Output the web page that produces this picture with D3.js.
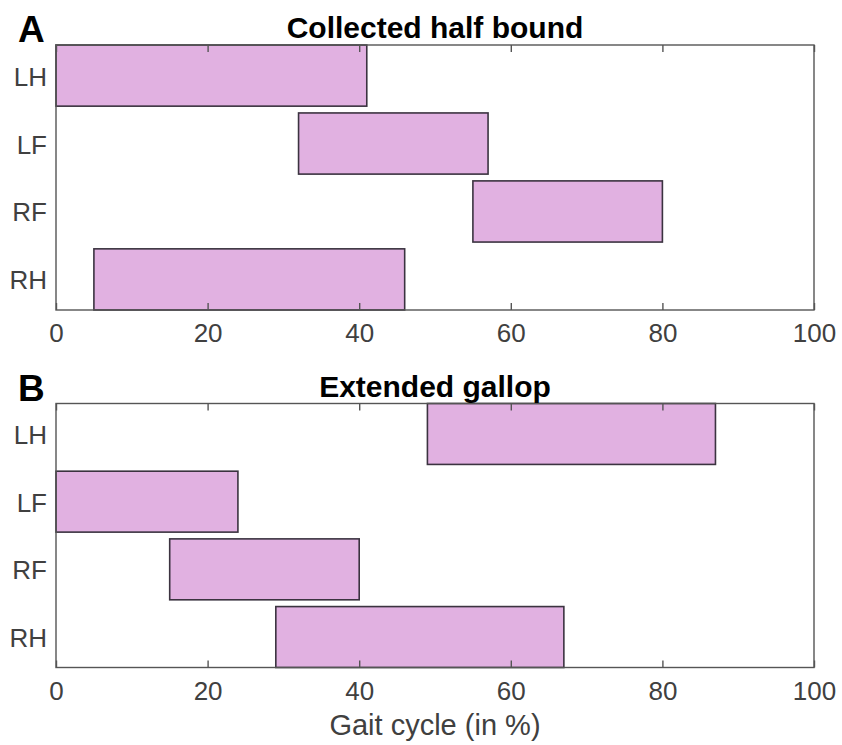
<!DOCTYPE html>
<html>
<head>
<meta charset="utf-8">
<script src="https://cdn.jsdelivr.net/npm/d3@7"></script>
<style>
  body { margin: 0; background: #fff; }
  svg { display: block; font-family: "Liberation Sans", Arial, sans-serif; }
</style>
</head>
<body>
<svg id="chart" width="842" height="745"></svg>
<script>
// limbs, top to bottom
const limbs = ['LH', 'LF', 'RF', 'RH']
// stance phase start / end, % of gait cycle
const halfBoundStart = [0, 32, 55, 5]
const halfBoundEnd = [41, 57, 80, 46]
const gallopStart = [49, 0, 15, 29]
const gallopEnd = [87, 24, 40, 67]
const xTicks = [0, 20, 40, 60, 80, 100]

const panels = [
    { letter: 'A', title: 'Collected half bound', start: halfBoundStart, end: halfBoundEnd, top: 45, bottom: 310 },
    { letter: 'B', title: 'Extended gallop', start: gallopStart, end: gallopEnd, top: 403.5, bottom: 667.5 }
]

const left = 56, right = 814
const svg = d3.select('#chart')

const x = d3.scaleLinear().domain([0, 100]).range([left, right])

const draw_panel = (p) => {
    const y = d3.scaleBand().domain(limbs).range([p.top, p.bottom]).paddingInner(0.1).paddingOuter(0)
    const g = svg.append('g')

    const rows = limbs.map((k, i) => ({ limb: k, start: p.start[i], end: p.end[i] }))

    g.selectAll('rect.bar')
        .data(rows)
        .enter()
        .append('rect')
        .attr('class', 'bar')
        .attr('x', d => x(d.start))
        .attr('y', d => y(d.limb))
        .attr('width', d => x(d.end) - x(d.start))
        .attr('height', y.bandwidth())
        .attr('fill', '#e1b1e1')
        .attr('stroke', '#3b3340')
        .attr('stroke-width', 1.6)

    // box
    g.append('rect')
        .attr('x', left).attr('y', p.top)
        .attr('width', right - left).attr('height', p.bottom - p.top)
        .attr('fill', 'none')
        .attr('stroke', '#555')
        .attr('stroke-width', 1.4)

    // inward ticks, bottom and top
    const bottomAxis = d3.axisBottom(x).tickValues(xTicks).tickSizeInner(-7).tickSizeOuter(0).tickPadding(14)
    const ax = g.append('g').attr('transform', 'translate(0,' + p.bottom + ')').call(bottomAxis)
    ax.select('.domain').remove()
    ax.selectAll('line').attr('stroke', '#555').attr('stroke-width', 1.4)
    ax.selectAll('text')
        .attr('fill', '#404040')
        .style('font-size', '26px')

    const topAxis = d3.axisTop(x).tickValues(xTicks).tickSizeInner(-7).tickSizeOuter(0).tickFormat('')
    const at = g.append('g').attr('transform', 'translate(0,' + p.top + ')').call(topAxis)
    at.select('.domain').remove()
    at.selectAll('line').attr('stroke', '#555').attr('stroke-width', 1.4)

    // limb labels
    g.selectAll('text.limb')
        .data(limbs)
        .enter()
        .append('text')
        .attr('class', 'limb')
        .attr('x', left - 9)
        .attr('y', d => y(d) + y.bandwidth() / 2 + 10)
        .attr('text-anchor', 'end')
        .attr('fill', '#404040')
        .style('font-size', '26px')
        .text(d => d)

    g.append('text')
        .attr('x', (left + right) / 2)
        .attr('y', p.top - 7)
        .attr('text-anchor', 'middle')
        .style('font-size', '30px')
        .style('font-weight', 'bold')
        .text(p.title)

    g.append('text')
        .attr('x', 18)
        .attr('y', p.top - 3)
        .style('font-size', '37px')
        .style('font-weight', 'bold')
        .text(p.letter)
}

panels.forEach(draw_panel)

svg.append('text')
    .attr('x', (left + right) / 2)
    .attr('y', 735)
    .attr('text-anchor', 'middle')
    .attr('fill', '#404040')
    .style('font-size', '29px')
    .text('Gait cycle (in %)')
</script>
</body>
</html>
